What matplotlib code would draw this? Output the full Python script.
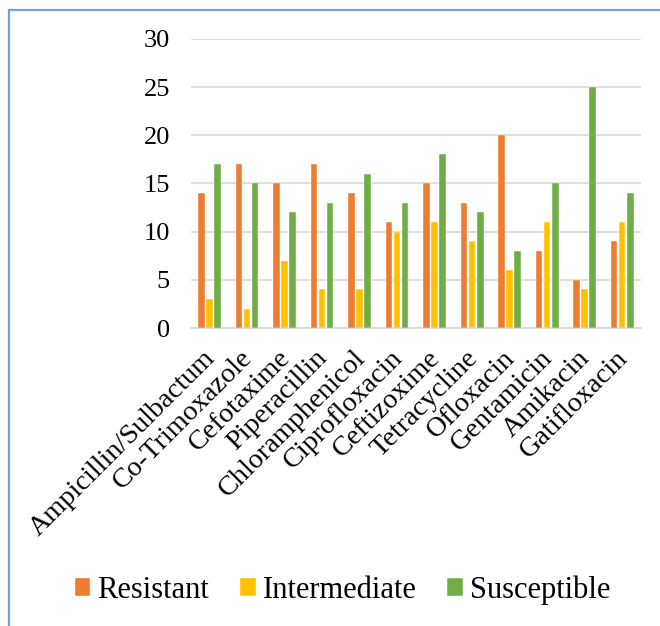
import numpy as np
import matplotlib.pyplot as plt
from matplotlib.patches import Rectangle
from matplotlib.transforms import ScaledTranslation

plt.rcParams['font.family'] = ['Liberation Serif', 'DejaVu Serif']

drugs = ['Ampicillin/Sulbactum', 'Co-Trimoxazole', 'Cefotaxime', 'Piperacillin',
         'Chloramphenicol', 'Ciprofloxacin', 'Ceftizoxime', 'Tetracycline',
         'Ofloxacin', 'Gentamicin', 'Amikacin', 'Gatifloxacin']
resistant    = [14, 17, 15, 17, 14, 11, 15, 13, 20, 8, 5, 9]
intermediate = [3, 2, 7, 4, 4, 10, 11, 9, 6, 11, 4, 11]
susceptible  = [17, 15, 12, 13, 16, 13, 18, 12, 8, 15, 25, 14]

series = [('Resistant', resistant, '#ED7D31'),
          ('Intermediate', intermediate, '#FFC000'),
          ('Susceptible', susceptible, '#70AD47')]

fig = plt.figure(figsize=(6.6, 6.26), dpi=100)
ax = fig.add_axes([0.289, 0.476, 0.682, 0.462])

x = np.arange(len(drugs))
width = 0.18
step = 0.215
for i, (name, vals, col) in enumerate(series):
    ax.bar(x + (i - 1) * step, vals, width, color=col, label=name,
           edgecolor='white', linewidth=0.3, zorder=3)

ax.set_xlim(-0.5, len(drugs) - 0.5)
ax.set_ylim(0, 30)
ax.set_yticks(range(0, 31, 5))
ax.tick_params(axis='y', length=0, labelsize=19, pad=15)
ax.tick_params(axis='x', length=0, pad=4)
ax.set_xticks(x)
ax.set_xticklabels(drugs, rotation=45, ha='right', rotation_mode='anchor',
                   fontsize=20.3)
# nudge the slanted labels a little down and to the left
nudge = ScaledTranslation(-0.07, -0.12, fig.dpi_scale_trans)
for lab in ax.get_xticklabels():
    lab.set_transform(lab.get_transform() + nudge)

ax.grid(axis='y', color='#D9D9D9', linewidth=1.2, zorder=0)
for s in ['top', 'right', 'left']:
    ax.spines[s].set_visible(False)
ax.spines['bottom'].set_color('#D9D9D9')
ax.spines['bottom'].set_linewidth(1.2)

fig.legend(loc='center', bbox_to_anchor=(0.519, 0.057), ncol=3, frameon=False,
           fontsize=22, handlelength=0.52, handleheight=0.52, handletextpad=0.23,
           columnspacing=1.0)

# outer chart border
fig.patches.append(Rectangle((8.5 / 660, -0.1), 1.2, 1.1 - 10 / 626,
                             transform=fig.transFigure, fill=False,
                             edgecolor='#6FA3DC', linewidth=1.6))

fig.savefig('out.png', dpi=100)
